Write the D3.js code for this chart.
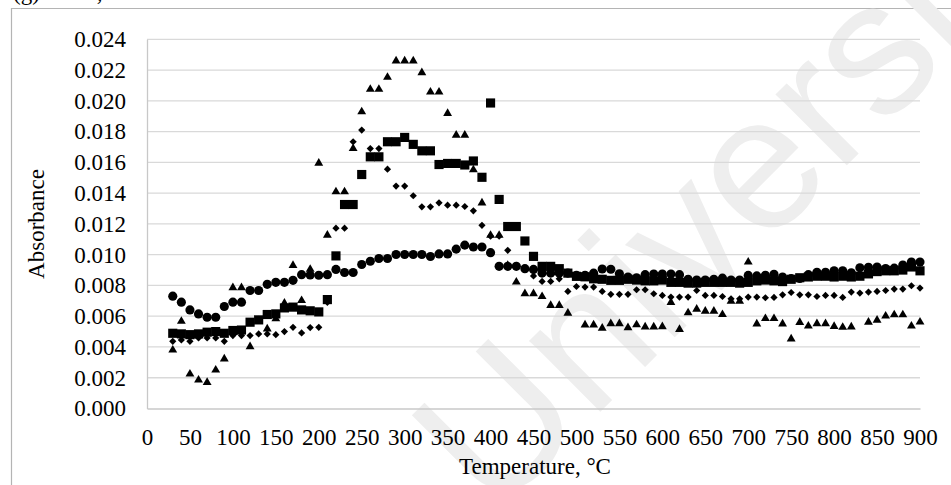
<!DOCTYPE html>
<html>
<head>
<meta charset="utf-8">
<script src="https://cdn.jsdelivr.net/npm/d3@7"></script>
<style>
  html, body { margin: 0; padding: 0; background: #fff; }
  svg { display: block; }
</style>
</head>
<body>
<svg id="chart" width="951" height="485"></svg>
<script>
// Temperature (°C) of each measurement
const temperatures = [
  30, 40, 50, 60, 70, 80, 90, 100, 110, 120, 130, 140, 150, 160, 170, 180, 190, 200, 210, 220,
  230, 240, 250, 260, 270, 280, 290, 300, 310, 320, 330, 340, 350, 360, 370, 380, 390, 400, 410, 420,
  430, 440, 450, 460, 470, 480, 490, 500, 510, 520, 530, 540, 550, 560, 570, 580, 590, 600, 610, 620,
  630, 640, 650, 660, 670, 680, 690, 700, 710, 720, 730, 740, 750, 760, 770, 780, 790, 800, 810, 820,
  830, 840, 850, 860, 870, 880, 890, 900
];

// Absorbance, circle series
const circleSeries = [
  0.00730, 0.00691, 0.00641, 0.00615, 0.00593, 0.00593, 0.00663, 0.00691, 0.00691, 0.00767,
  0.00767, 0.00807, 0.00820, 0.00820, 0.00833, 0.00870, 0.00868, 0.00866, 0.00870, 0.00904,
  0.00884, 0.00884, 0.00936, 0.00957, 0.00975, 0.00975, 0.01001, 0.01001, 0.01001, 0.01001,
  0.00988, 0.01005, 0.01005, 0.01036, 0.01062, 0.01050, 0.01050, 0.01013, 0.00924, 0.00924,
  0.00924, 0.00909, 0.00904, 0.00880, 0.00880, 0.00880, 0.00880, 0.00866, 0.00866, 0.00880,
  0.00907, 0.00905, 0.00876, 0.00855, 0.00850, 0.00870, 0.00874, 0.00874, 0.00874, 0.00870,
  0.00840, 0.00835, 0.00835, 0.00840, 0.00847, 0.00835, 0.00835, 0.00865, 0.00862, 0.00866,
  0.00872, 0.00855, 0.00845, 0.00845, 0.00870, 0.00885, 0.00885, 0.00895, 0.00895, 0.00882,
  0.00915, 0.00918, 0.00920, 0.00910, 0.00912, 0.00933, 0.00952, 0.00952
];

// Absorbance, square series
const squareSeries = [
  0.00489, 0.00485, 0.00480, 0.00485, 0.00496, 0.00500, 0.00489, 0.00507, 0.00510, 0.00561,
  0.00576, 0.00611, 0.00615, 0.00654, 0.00659, 0.00641, 0.00635, 0.00628, 0.00708, 0.00992,
  0.01326, 0.01326, 0.01521, 0.01636, 0.01636, 0.01734, 0.01734, 0.01762, 0.01717, 0.01675,
  0.01675, 0.01586, 0.01593, 0.01593, 0.01583, 0.01609, 0.01503, 0.01986, 0.01359, 0.01183,
  0.01183, 0.01089, 0.00989, 0.00924, 0.00924, 0.00909, 0.00880, 0.00859, 0.00856, 0.00843,
  0.00840, 0.00833, 0.00833, 0.00840, 0.00835, 0.00830, 0.00830, 0.00835, 0.00820, 0.00820,
  0.00815, 0.00815, 0.00820, 0.00820, 0.00820, 0.00820, 0.00815, 0.00820, 0.00830, 0.00835,
  0.00830, 0.00825, 0.00840, 0.00850, 0.00855, 0.00860, 0.00860, 0.00855, 0.00860, 0.00855,
  0.00860, 0.00875, 0.00890, 0.00895, 0.00895, 0.00900, 0.00920, 0.00895
];

// Absorbance, diamond series
const diamondSeries = [
  0.00437, 0.00446, 0.00437, 0.00459, 0.00459, 0.00459, 0.00437, 0.00474, 0.00474, 0.00474,
  0.00485, 0.00485, 0.00480, 0.00500, 0.00528, 0.00491, 0.00526, 0.00528, 0.00690, 0.01172,
  0.01172, 0.01734, 0.01810, 0.01690, 0.01690, 0.01556, 0.01446, 0.01446, 0.01383, 0.01311,
  0.01311, 0.01337, 0.01322, 0.01322, 0.01313, 0.01285, 0.01191, 0.01120, 0.01120, 0.01028,
  0.00930, 0.00905, 0.00862, 0.00826, 0.00826, 0.00843, 0.00761, 0.00793, 0.00789, 0.00789,
  0.00761, 0.00742, 0.00742, 0.00742, 0.00772, 0.00772, 0.00746, 0.00735, 0.00724, 0.00724,
  0.00724, 0.00767, 0.00735, 0.00735, 0.00728, 0.00713, 0.00713, 0.00724, 0.00724, 0.00720,
  0.00722, 0.00739, 0.00754, 0.00739, 0.00739, 0.00728, 0.00735, 0.00735, 0.00722, 0.00757,
  0.00750, 0.00757, 0.00761, 0.00767, 0.00776, 0.00776, 0.00798, 0.00783
];

// Absorbance, triangle series (null = no reading)
const triangleSeries = [
  0.00380, 0.00567, 0.00224, 0.00185, 0.00170, 0.00250, 0.00322, 0.00785, 0.00785, 0.00402,
  0.00570, 0.00517, 0.00583, 0.00685, 0.00930, 0.00702, 0.00905, 0.01595, 0.01127, 0.01409,
  0.01409, 0.01690, 0.01929, 0.02075, 0.02075, 0.02153, 0.02259, 0.02259, 0.02259, 0.02183,
  0.02057, 0.02057, 0.01918, 0.01777, 0.01777, 0.01552, 0.01337, 0.01126, 0.01126, 0.00930,
  0.00822, 0.00746, 0.00746, 0.00728, 0.00670, 0.00670, 0.00620, null,    0.00543, 0.00543,
  0.00522, 0.00552, 0.00552, 0.00526, 0.00544, 0.00530, 0.00530, 0.00532, 0.00690, 0.00514,
  0.00622, 0.00646, 0.00633, 0.00633, 0.00611, 0.00697, 0.00697, 0.00952, 0.00550, 0.00585,
  0.00585, 0.00550, 0.00452, 0.00560, 0.00536, 0.00552, 0.00552, 0.00534, 0.00528, 0.00530,
  null,    0.00561, 0.00574, 0.00601, 0.00609, 0.00609, 0.00536, 0.00562
];

const xTickValues = [0, 50, 100, 150, 200, 250, 300, 350, 400, 450, 500, 550, 600, 650, 700, 750, 800, 850, 900];
const yTickValues = [0, 0.002, 0.004, 0.006, 0.008, 0.010, 0.012, 0.014, 0.016, 0.018, 0.020, 0.022, 0.024];

const serif = "'Liberation Serif', 'Times New Roman', Times, serif";

const svg = d3.select("#chart");
const W = 951, H = 485;

svg.append("rect").attr("width", W).attr("height", H).attr("fill", "#fff");

// Panel caption, mostly above the frame
svg.append("text")
  .attr("x", 13).attr("y", 0)
  .attr("font-family", serif).attr("font-size", 23)
  .attr("fill", "#000")
  .text("(g) at 1 h, air");

// Chart frame
svg.append("path")
  .attr("d", `M11.5,${H + 2} V8.5 H${W + 2}`)
  .attr("fill", "none").attr("stroke", "#b4b4b4").attr("stroke-width", 1.2);

const x = d3.scaleLinear().domain([0, 900]).range([147, 920]);
const y = d3.scaleLinear().domain([0, 0.024]).range([408.5, 39.3]);

// Faint watermark behind the data
svg.append("text")
  .attr("transform", "translate(494,518) rotate(-45)")
  .attr("font-family", "'Liberation Sans', Arial, sans-serif")
  .attr("font-size", 190)
  .attr("fill", "#eeeeee")
  .text("University");

// Horizontal gridlines
svg.append("g")
  .selectAll("line")
  .data(yTickValues.filter(v => v > 0))
  .join("line")
  .attr("x1", x(0)).attr("x2", x(900))
  .attr("y1", d => y(d)).attr("y2", d => y(d))
  .attr("stroke", "#d9d9d9").attr("stroke-width", 1.3);

// Y axis
const yAxis = svg.append("g")
  .attr("transform", `translate(${x(0)},0)`)
  .call(d3.axisLeft(y).tickValues(yTickValues).tickFormat(d3.format(".3f")).tickSize(0).tickPadding(21));
yAxis.select(".domain").attr("stroke", "#c8c8c8").attr("stroke-width", 1.3);
yAxis.selectAll("text").attr("font-family", serif).attr("font-size", 23).attr("fill", "#000");

// X axis
const xAxis = svg.append("g")
  .attr("transform", `translate(0,${y(0)})`)
  .call(d3.axisBottom(x).tickValues(xTickValues).tickFormat(d3.format("d")).tickSize(0).tickPadding(20));
xAxis.select(".domain").attr("stroke", "#c8c8c8").attr("stroke-width", 1.3);
xAxis.selectAll("text").attr("font-family", serif).attr("font-size", 23).attr("fill", "#000");

// Axis titles
svg.append("text")
  .attr("x", 535).attr("y", 474)
  .attr("text-anchor", "middle")
  .attr("font-family", serif).attr("font-size", 23).attr("fill", "#000")
  .text("Temperature, °C");

svg.append("text")
  .attr("transform", "translate(36,224) rotate(-90)")
  .attr("text-anchor", "middle").attr("dominant-baseline", "central")
  .attr("font-family", serif).attr("font-size", 23).attr("fill", "#000")
  .text("Absorbance");

// Marker series, drawn bottom to top
const series = [
  { values: diamondSeries, symbol: d3.symbolSquare, size: 26, rotate: 45 },
  { values: triangleSeries, symbol: d3.symbolTriangle, size: 34, rotate: 0 },
  { values: circleSeries, symbol: d3.symbolCircle, size: 66, rotate: 0 },
  { values: squareSeries, symbol: d3.symbolSquare, size: 84, rotate: 0 }
];

series.forEach(s => {
  const pts = temperatures
    .map((t, i) => ({ t, v: s.values[i] }))
    .filter(p => p.v !== null);
  const path = d3.symbol().type(s.symbol).size(s.size)();
  svg.append("g")
    .selectAll("path")
    .data(pts)
    .join("path")
    .attr("d", path)
    .attr("transform", p => `translate(${x(p.t)},${y(p.v)}) rotate(${s.rotate})`)
    .attr("fill", "#000");
});
</script>
</body>
</html>
